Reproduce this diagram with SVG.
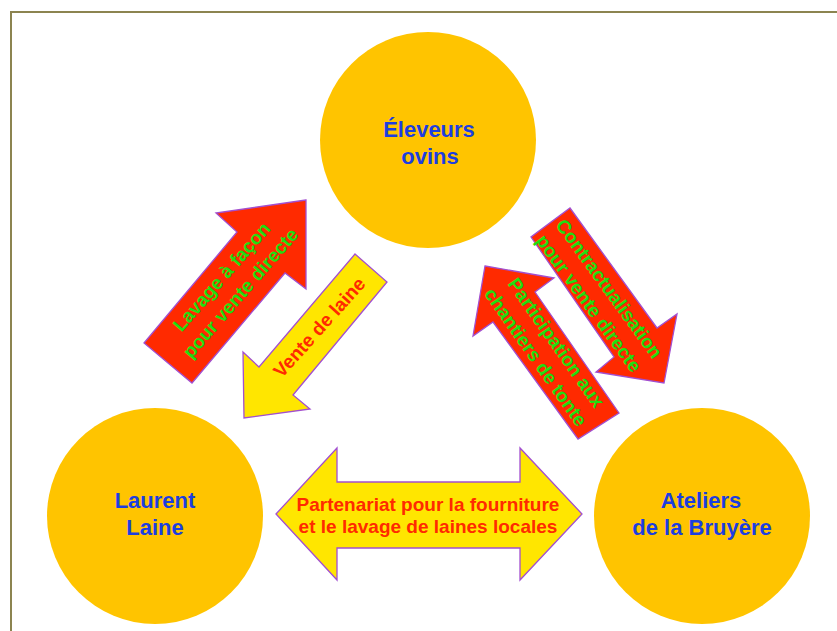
<svg xmlns="http://www.w3.org/2000/svg" width="837" height="631" viewBox="0 0 837 631">
<style>
.node{fill:#ffc400}
.ntxt{font-family:"Liberation Sans",Arial,sans-serif;font-weight:bold;font-size:22px;fill:#1c3ee0;text-anchor:middle}
.red{fill:#ff2a00;stroke:#a24fd0;stroke-width:1.3}
.yel{fill:#ffe600;stroke:#a24fd0;stroke-width:1.3}
.gtxt{font-family:"Liberation Sans",Arial,sans-serif;font-weight:bold;font-size:19px;fill:#22dd11;text-anchor:middle}
.rtxt{font-family:"Liberation Sans",Arial,sans-serif;font-weight:bold;font-size:19px;fill:#ff2a00;text-anchor:middle}
</style>
<rect x="0" y="0" width="837" height="631" fill="#ffffff"/>
<rect x="11" y="12" width="840" height="640" fill="none" stroke="#8c8450" stroke-width="2"/>
<g id="eleveurs">
<circle class="node" cx="428" cy="140" r="108"/>
<text class="ntxt" x="429" y="137">Éleveurs</text>
<text class="ntxt" x="430" y="164">ovins</text>
</g>
<g id="laurent-laine">
<circle class="node" cx="155" cy="516" r="108"/>
<text class="ntxt" x="155" y="508">Laurent</text>
<text class="ntxt" x="155" y="535">Laine</text>
</g>
<g id="ateliers">
<circle class="node" cx="702" cy="516" r="108"/>
<text class="ntxt" x="701" y="508">Ateliers</text>
<text class="ntxt" x="702" y="535">de la Bruyère</text>
</g>
<g id="connectors">
<g id="lavage">
<polygon class="red" points="306,200 216,213 237,232 144,343 192,383 285,273 306,289"/>
<text class="gtxt" transform="translate(231,285) rotate(-49)"><tspan x="0" y="-6">Lavage à façon</tspan><tspan x="0" y="19">pour vente directe</tspan></text>
</g>
<g id="vente-laine">
<polygon class="yel" points="355,254 387,282 293,395 310,409 244,418 243,352 259,367"/>
<text class="rtxt" transform="translate(319,327) rotate(-48)" y="7" x="0">Vente de laine</text>
</g>
<g id="contractualisation">
<polygon class="red" points="570,208 657,328 677,314 664,383 596,372 614,357 531,237"/>
<text class="gtxt" transform="translate(599,296) rotate(54)"><tspan x="0" y="-6">Contractualisation</tspan><tspan x="0" y="19">pour vente directe</tspan></text>
</g>
<g id="participation">
<polygon class="red" points="485,266 554,278 535,292 619,413 578,439 493,322 473,336"/>
<text class="gtxt" transform="translate(546,350) rotate(55)"><tspan x="0" y="-6">Participation aux</tspan><tspan x="0" y="19">chantiers de tonte</tspan></text>
</g>
<g id="partenariat">
<polygon class="yel" points="276,514 337,448 337,482 520,482 520,448 582,514 520,580 520,548 337,548 337,580"/>
<text class="rtxt"><tspan x="428" y="511">Partenariat pour la fourniture</tspan><tspan x="428" y="533">et le lavage de laines locales</tspan></text>
</g>
</g>
</svg>
